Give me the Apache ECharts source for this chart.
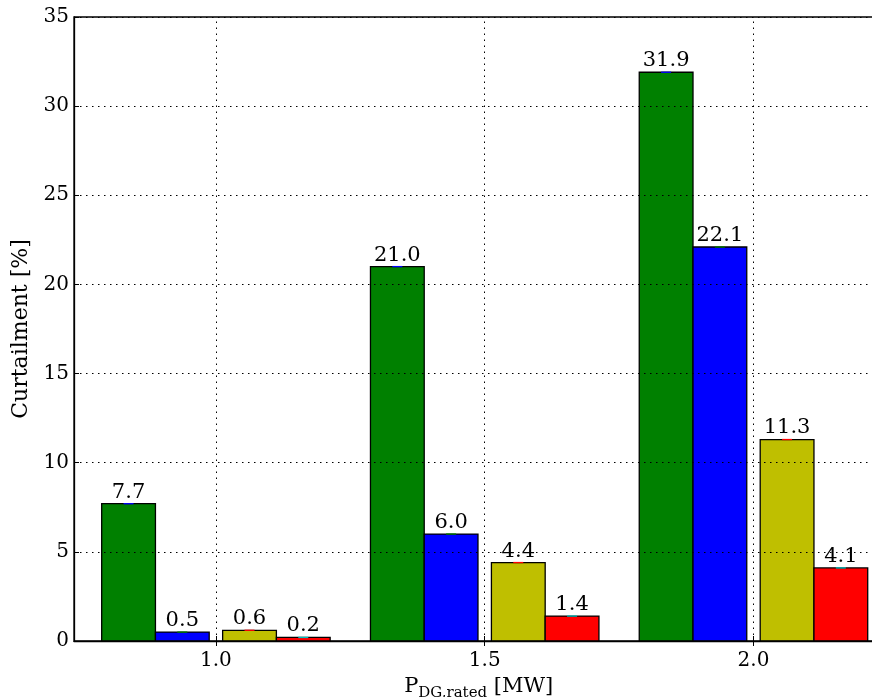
<!DOCTYPE html>
<html>
<head>
<meta charset="utf-8">
<script src="https://cdn.jsdelivr.net/npm/echarts@6/dist/echarts.min.js"></script>
<style>html,body{margin:0;padding:0;background:#fff}#c{width:872px;height:697px}</style>
</head>
<body>
<div id="c"></div>
<script>
const xValues = [1.0, 1.5, 2.0];
const xTickLabels = ['1.0', '1.5', '2.0'];
const yTicks = [0, 5, 10, 15, 20, 25, 30, 35];
const greenValues = [7.7, 21.0, 31.9];
const blueValues = [0.5, 6.0, 22.1];
const yellowValues = [0.6, 4.4, 11.3];
const redValues = [0.2, 1.4, 4.1];

const FONT = 'DejaVu Serif';
const FS = 20;
const groups = [
  {name: 'A', values: greenValues, color: '#008000', cap: '#0000ff', off: -0.2125},
  {name: 'B', values: blueValues, color: '#0000ff', cap: '#008000', off: -0.1125},
  {name: 'C', values: yellowValues, color: '#bfbf00', cap: '#ff0000', off: 0.0125},
  {name: 'D', values: redValues, color: '#ff0000', cap: '#00bfbf', off: 0.1125}
];
const BW = 0.1;

function makeSeries(g) {
  return {
    type: 'custom',
    name: g.name,
    z: 2,
    data: xValues.map((x, i) => [x, g.values[i]]),
    renderItem: function (params, api) {
      const x = api.value(0), v = api.value(1);
      const p0 = api.coord([x + g.off, 0]);
      const p1 = api.coord([x + g.off + BW, v]);
      const cx = (p0[0] + p1[0]) / 2;
      return {
        type: 'group',
        children: [
          {type: 'rect', shape: {x: p0[0], y: p1[1], width: p1[0] - p0[0], height: p0[1] - p1[1]},
           style: {fill: g.color, stroke: '#000', lineWidth: 1.3}},
          {type: 'line', shape: {x1: cx - 5, y1: p1[1], x2: cx + 5, y2: p1[1]},
           style: {stroke: g.cap, lineWidth: 1.3}, z2: 5},
          {type: 'text', style: {text: v.toFixed(1), x: cx, y: p1[1] - 1, align: 'center', verticalAlign: 'bottom',
           font: '21px "' + FONT + '"', fill: '#000'}}
        ]
      };
    }
  };
}

const chart = echarts.init(document.getElementById('c'), null, {renderer: 'canvas'});
const series = groups.map(makeSeries);
series.push({
  type: 'line', data: [], z: 10, silent: true,
  markLine: {
    silent: true, symbol: 'none', animation: false,
    label: {show: false},
    lineStyle: {color: '#000', width: 1, type: [1.5, 4.5]},
    data: xValues.map(v => ({xAxis: v}))
  }
});

chart.setOption({
  animation: false,
  backgroundColor: '#fff',
  grid: {left: 74, top: 17, width: 821.4, height: 624, show: true, borderColor: '#000', borderWidth: 1.3,
    backgroundColor: 'transparent', containLabel: false, outerBoundsMode: 'none'},
  xAxis: [{
    type: 'value', min: 0.736, max: 2.264, position: 'bottom', z: 10,
    axisLine: {show: true, onZero: false, lineStyle: {color: '#000', width: 1.3}},
    axisTick: {show: true, inside: true, length: 5, customValues: xValues, lineStyle: {color: '#000'}},
    axisLabel: {show: true, customValues: xValues, margin: 10, color: '#000', fontFamily: FONT, fontSize: FS,
      formatter: v => xTickLabels[xValues.indexOf(v)] || ''},
    splitLine: {show: false},
    name: '{m|P}{s|DG,rated}{m| [MW]}', nameLocation: 'middle', nameGap: 29,
    nameTextStyle: {color: '#000', fontFamily: FONT, fontSize: 21, padding: [0, 12, 0, 0],
      rich: {m: {fontFamily: FONT, fontSize: 21, color: '#000', verticalAlign: 'bottom'},
             s: {fontFamily: FONT, fontSize: 15, color: '#000', verticalAlign: 'bottom', padding: [0, 0, -4, 0]}}}
  }, {
    type: 'value', min: 0.736, max: 2.264, position: 'top', z: 10,
    axisLine: {show: false},
    axisTick: {show: true, inside: true, length: 5, customValues: xValues, lineStyle: {color: '#000'}},
    axisLabel: {show: false},
    splitLine: {show: false}
  }],
  yAxis: [{
    type: 'value', min: 0, max: 35, interval: 5, z: 10,
    axisLine: {show: true, lineStyle: {color: '#000', width: 1.3}},
    axisTick: {show: true, inside: true, length: 5, lineStyle: {color: '#000'}},
    axisLabel: {color: '#000', fontFamily: FONT, fontSize: FS, margin: 5,
      formatter: v => yTicks.indexOf(v) >= 0 ? String(v) : ''},
    splitLine: {show: true, lineStyle: {color: '#000', width: 1, type: [1.5, 4.5]}},
    name: 'Curtailment [%]', nameLocation: 'middle', nameGap: 34, nameRotate: 90,
    nameTextStyle: {color: '#000', fontFamily: FONT, fontSize: 22}
  }],
  series: series
});
</script>
</body>
</html>
